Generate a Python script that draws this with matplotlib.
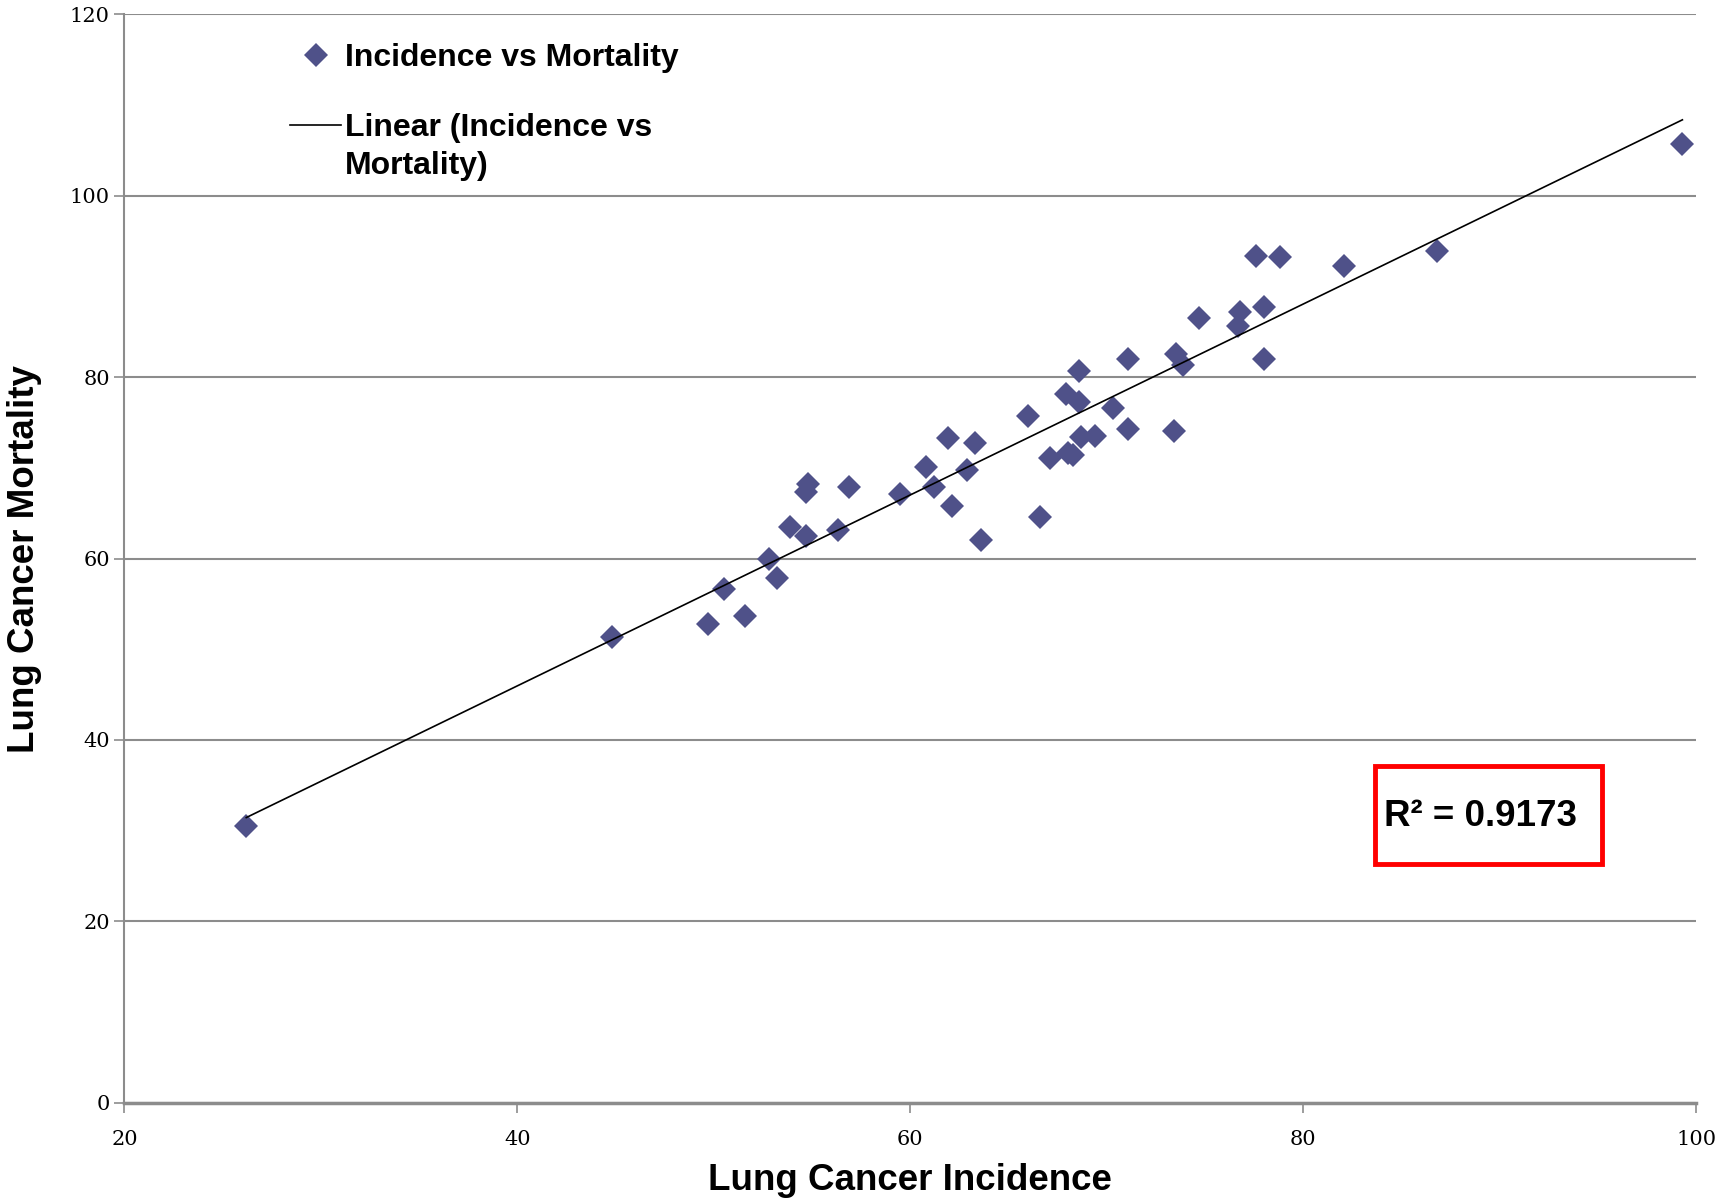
import numpy as np
import matplotlib.pyplot as plt
from matplotlib.patches import Rectangle

# incidence vs mortality
incidence = [26.2, 44.8, 49.7, 50.5, 51.6, 52.8, 53.2, 53.9, 54.7, 54.7,
             54.8, 56.3, 56.9, 59.5, 60.8, 61.2, 61.9, 62.1, 62.9, 63.3,
             63.6, 66.0, 66.6, 67.1, 67.9, 68.05, 68.3, 68.6, 68.6, 68.7,
             69.4, 70.3, 71.1, 71.1, 73.4, 73.5, 73.9, 74.7, 76.7, 76.8,
             77.6, 78.0, 78.0, 78.8, 82.1, 86.8, 99.3]
mortality = [30.5, 51.4, 52.8, 56.6, 53.7, 59.9, 57.9, 63.5, 62.5, 67.3,
             68.2, 63.2, 67.9, 67.1, 70.1, 67.9, 73.3, 65.8, 69.8, 72.7,
             62.0, 75.7, 64.6, 71.1, 78.2, 71.6, 71.4, 77.3, 80.7, 73.4,
             73.5, 76.6, 82.0, 74.3, 74.1, 82.6, 81.3, 86.5, 85.6, 87.2,
             93.4, 87.7, 82.0, 93.2, 92.3, 93.9, 105.7]
xticks = [20, 40, 60, 80, 100]
yticks = [0, 20, 40, 60, 80, 100, 120]
r2_text = 'R² = 0.9173'

x = np.array(incidence)
y = np.array(mortality)
slope, icept = np.polyfit(x, y, 1)
xf = np.array([x.min(), x.max()])

fig = plt.figure(figsize=(17.29, 12.02), dpi=100)
ax = fig.add_axes([0.072, 0.0826, 0.909, 0.9054])

ax.yaxis.grid(True, color='#8c8c8c', linewidth=1.5)
ax.set_axisbelow(True)
ax.plot(x, y, 'D', color='#4F5189', markersize=12, markeredgewidth=0,
        label='Incidence vs Mortality', zorder=3)
ax.plot(xf, slope * xf + icept, color='black', linewidth=1.2,
        label='Linear (Incidence vs', zorder=4)

ax.set_xlim(20, 100)
ax.set_ylim(0, 120)
ax.set_xticks(xticks)
ax.set_yticks(yticks)
for s in ['top', 'right']:
    ax.spines[s].set_visible(False)
for s in ['left', 'bottom']:
    ax.spines[s].set_color('#8c8c8c')
    ax.spines[s].set_linewidth(1.5)
ax.spines['bottom'].set_linewidth(2.5)
ax.tick_params(colors='#8c8c8c', length=7, width=1.2, labelcolor='black',
               labelsize=15)
for lab in ax.get_xticklabels() + ax.get_yticklabels():
    lab.set_family('DejaVu Serif')
ax.tick_params(axis='x', pad=13)

ax.set_xlabel('Lung Cancer Incidence', fontsize=26.5, fontweight='bold',
              family='Liberation Sans', labelpad=10)
ax.set_ylabel('Lung Cancer Mortality', fontsize=26.5, fontweight='bold',
              family='Liberation Sans', labelpad=20)

leg = ax.legend(loc='upper left', bbox_to_anchor=(0.087, 1.0), frameon=False,
                prop={'family': 'Liberation Sans', 'weight': 'bold', 'size': 23},
                handlelength=1.6, handletextpad=0.12, labelspacing=1.25)

# second line of the trendline label, set under the first one
fig.canvas.draw()
bb = leg.get_texts()[1].get_window_extent()
x0, y0 = ax.transAxes.inverted().transform((bb.x0, bb.y0))
ax.text(x0, y0 - 0.0345, 'Mortality)', transform=ax.transAxes, fontsize=23,
        fontweight='bold', family='Liberation Sans', va='bottom', ha='left')

ax.add_patch(Rectangle((0.7957, 0.219), 0.1443, 0.0905, transform=ax.transAxes,
                       fill=False, edgecolor='#ff0000', linewidth=3.5,
                       zorder=5, clip_on=False))
ax.text(0.8014, 0.2634, r2_text, transform=ax.transAxes, fontsize=26.5,
        fontweight='bold', family='Liberation Sans', va='center', ha='left')

fig.savefig('out.png', dpi=100)
